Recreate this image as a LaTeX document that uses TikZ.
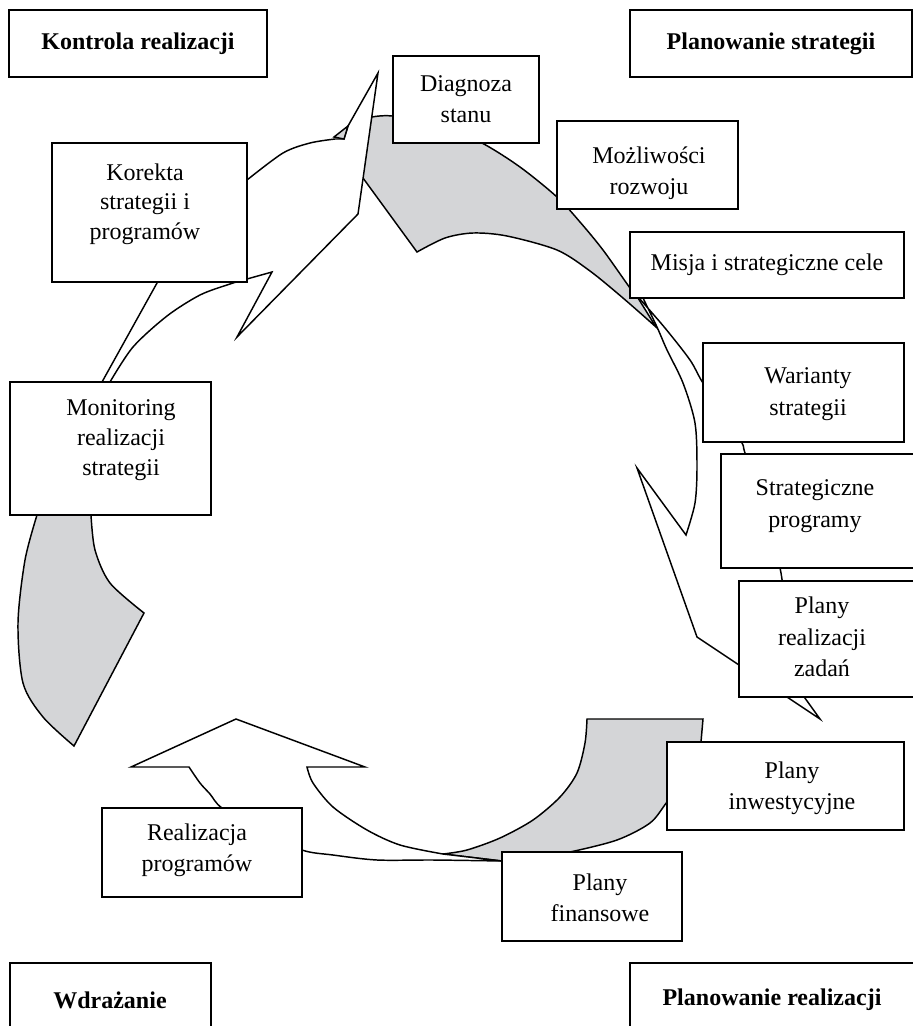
\documentclass[tikz,border=0pt]{standalone}
\usepackage{fontspec}
\setmainfont{Liberation Serif}
\usetikzlibrary{fit}
\definecolor{backgrey}{RGB}{212,213,215}
\tikzset{
  boxn/.style={draw=black, line width=1.3pt, fill=white, inner sep=0pt, rectangle},
  txt/.style={align=center, font=\fontsize{18pt}{23.6pt}\selectfont, inner sep=0pt},
  btxt/.style={align=center, font=\fontsize{18pt}{22pt}\selectfont\bfseries, inner sep=0pt},
  backface/.style={draw=black, line width=1.1pt, fill=backgrey, line join=miter},
  frontface/.style={draw=black, line width=1.1pt, fill=white, line join=miter},
}
\begin{document}
\begin{tikzpicture}[x=0.75pt, y=-0.75pt]
\clip (0,0) rectangle (913,1026);
\fill[white] (0,0) rectangle (913,1026);

% ---- back (grey) faces ----
\filldraw[backface] (40,500) -- (37,515)
  -- plot[smooth] coordinates {(37,515) (25,560) (18,623) (23,683) (43,717) (74,746)}
  -- (144,613)
  -- plot[smooth] coordinates {(144,613) (110,583) (95,550) (91,515)}
  -- (91,500) -- cycle;

\filldraw[backface] (360,120) -- (372,117)
  -- plot[smooth] coordinates {(372,117) (392,116) (440,125) (482,143) (520,167) (557,197) (580,222) (603,250) (630,288) (638,298)}
  -- (656,327)
  -- plot[smooth] coordinates {(656,327) (623,298) (590,271) (557,250) (507,236) (473,233) (445,238) (417,252)}
  -- (363,178) -- cycle;

\filldraw[backface] (443,854)
  -- plot[smooth] coordinates {(443,854) (467,850) (500,838) (533,820) (560,797) (577,773) (585,743) (587,719)}
  -- (703,719) -- (701,742)
  -- plot[smooth] coordinates {(701,742) (690,772) (667,802) (650,823) (617,840) (570,852) (535,858) (502,861)}
  -- cycle;

% ---- front (white) faces ----
\filldraw[frontface] (106,400) -- (102,382) -- (157,283) -- (210,215) -- (247,180)
  -- plot[smooth] coordinates {(247,180) (283,153) (310,143) (335,139)}
  -- (344,139) -- (348,126) -- (378,73) -- (358,214) -- (237,337) -- (272,272)
  -- plot[smooth] coordinates {(272,272) (247,279) (230,284) (200,295) (167,316) (133,347) (110,382)}
  -- cycle;
\filldraw[backface] (334,137) -- (348,126) -- (344,139) -- cycle;

\filldraw[frontface] (639,298)
  -- plot[smooth] coordinates {(639,298) (665,328) (690,360) (703,383) (725,413) (742,443) (745,453) (763,510) (780,568) (784,600)}
  -- (790,645) -- (797,687) -- (820,719) -- (697,637) -- (637,468) -- (686,535)
  -- plot[smooth] coordinates {(686,535) (695,503) (697,467) (695,423) (683,383) (667,350) (657,327) (643,298)}
  -- cycle;

\filldraw[frontface] (189,767) -- (131,767) -- (236,719) -- (365,767) -- (307,767)
  -- plot[smooth] coordinates {(307,767) (313,783) (333,807) (367,830) (400,845) (443,854)}
  -- (502,861)
  -- plot[smooth] coordinates {(502,861) (433,860) (377,860) (333,855) (302,850) (260,830) (222,808) (210,794) (200,783) (189,767)}
  -- cycle;

% ---- phase boxes ----
\node[boxn, fit={(9,10) (267,77)}] (kontrola) {};
\node[btxt] (kontrola-t) at (138,44) {Kontrola realizacji};
\node[boxn, fit={(630,10) (912,77)}] (planstrat) {};
\node[btxt] (planstrat-t) at (771,44) {Planowanie strategii};
\node[boxn, fit={(10,963) (211,1040)}] (wdraz) {};
\node[btxt] (wdraz-t) at (110,1000) {Wdrażanie};
\node[boxn, fit={(630,963) (916,1040)}] (planreal) {};
\node[btxt] (planreal-t) at (772,1000) {Planowanie realizacji};

% ---- step boxes ----
\node[boxn, fit={(393,56) (539,143)}] (diag) {};
\node[txt] (diag-t) at (466,99) {Diagnoza\\stanu};
\node[boxn, fit={(557,121) (738,209)}] (mozl) {};
\node[txt] (mozl-t) at (649,173) {Możliwości\\rozwoju};
\node[boxn, fit={(630,232) (904,298)}] (misja) {};
\node[txt] (misja-t) at (767,265) {Misja i strategiczne cele};
\node[boxn, fit={(703,343) (904,442)}] (war) {};
\node[txt] (war-t) at (808,394) {Warianty\\strategii};
\node[boxn, fit={(721,454) (916,568)}] (strprog) {};
\node[txt] (strprog-t) at (815,506) {Strategiczne\\programy};
\node[boxn, fit={(739,581) (916,697)}] (planyzad) {};
\node[txt] (planyzad-t) at (822,637) {Plany\\realizacji\\zadań};
\node[boxn, fit={(667,742) (904,830)}] (planyinw) {};
\node[txt] (planyinw-t) at (792,788) {Plany\\inwestycyjne};
\node[boxn, fit={(502,852) (682,941)}] (planyfin) {};
\node[txt] (planyfin-t) at (600,898) {Plany\\finansowe};
\node[boxn, fit={(102,808) (302,897)}] (realiz) {};
\node[txt] (realiz-t) at (197,850) {Realizacja\\programów};
\node[boxn, fit={(10,382) (211,515)}] (monit) {};
\node[txt, font=\fontsize{18pt}{22.5pt}\selectfont] (monit-t) at (121,440) {Monitoring\\realizacji\\strategii};
\node[boxn, fit={(52,143) (247,282)}] (korekta) {};
\node[txt, font=\fontsize{18pt}{22pt}\selectfont] (korekta-t) at (145,204) {Korekta\\strategii i\\programów};
\end{tikzpicture}
\end{document}
